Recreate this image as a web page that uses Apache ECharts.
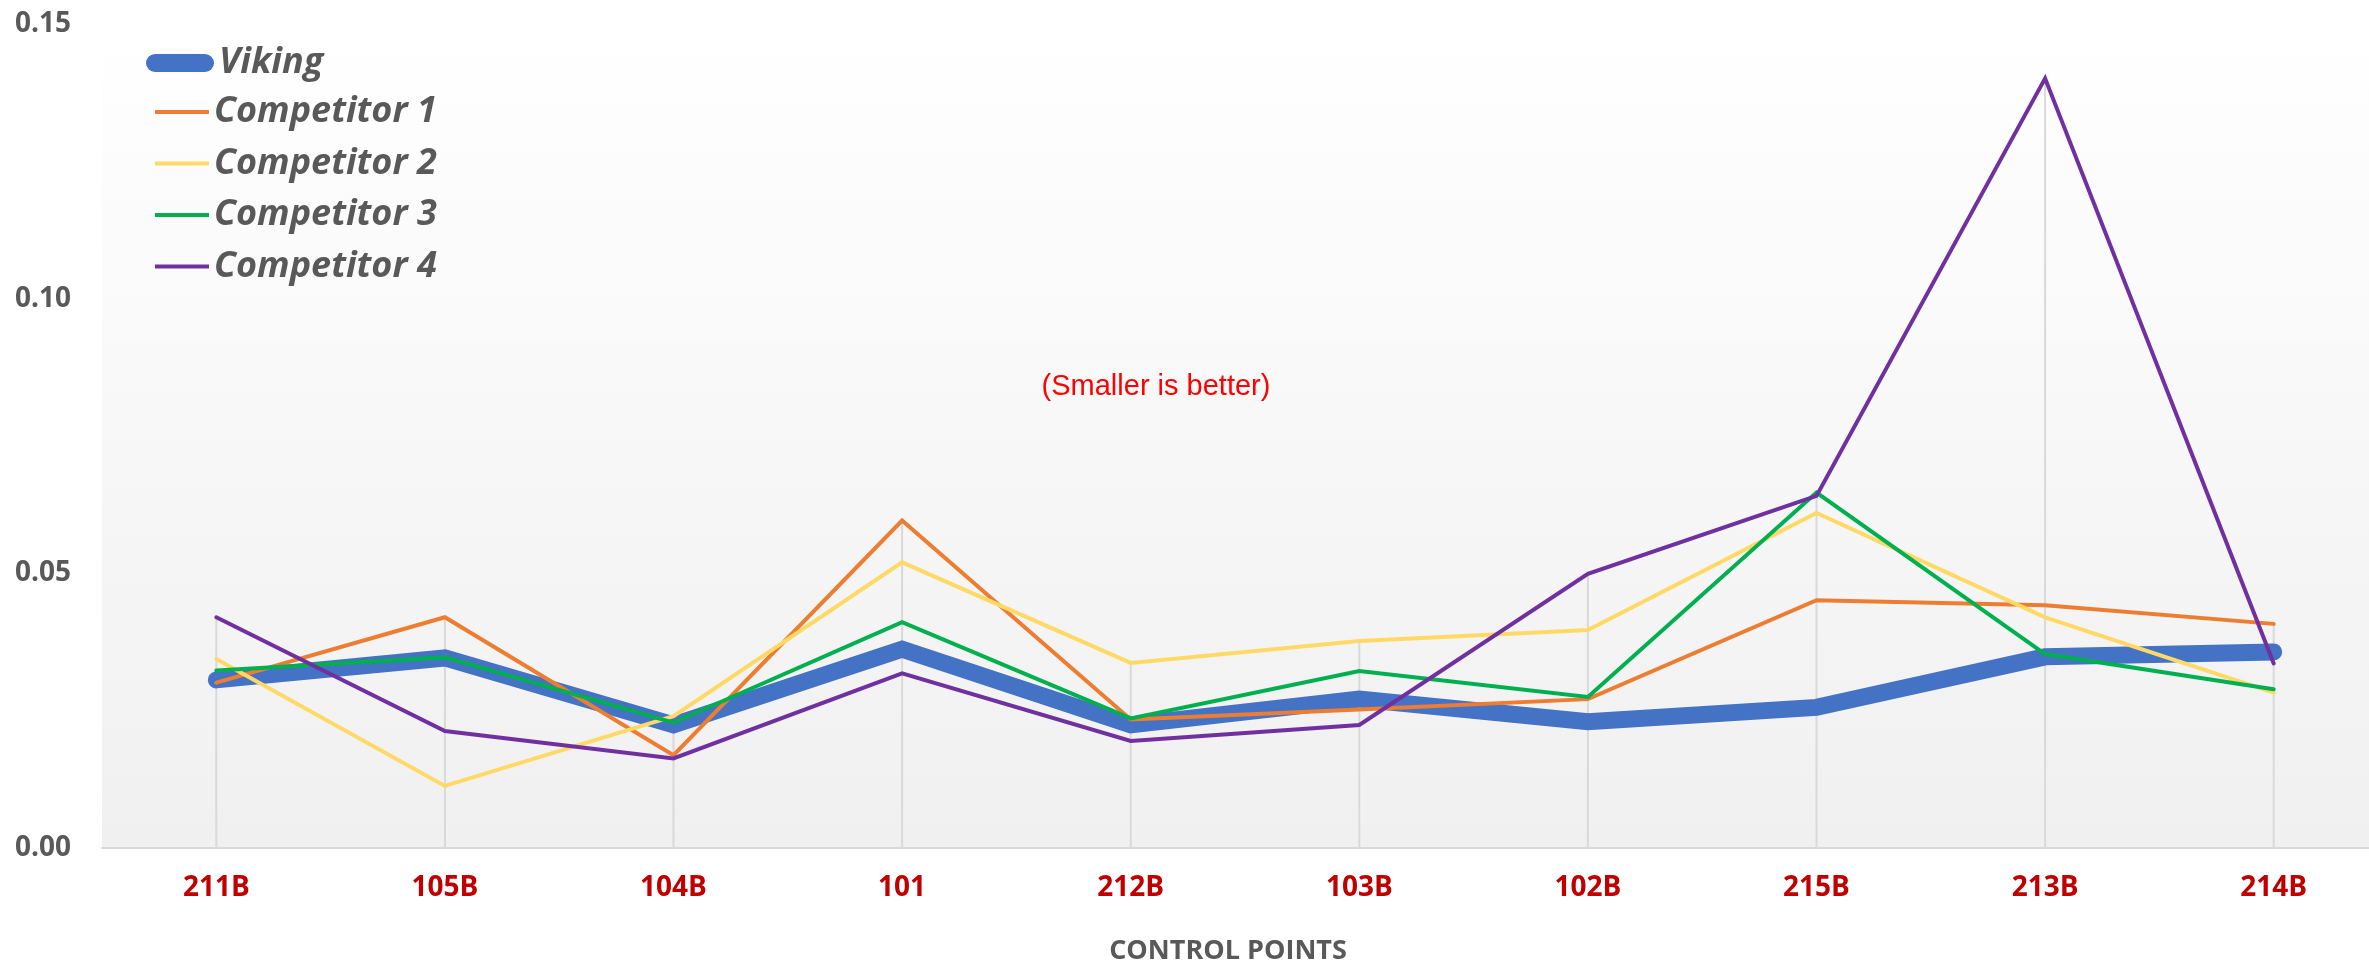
<!DOCTYPE html>
<html>
<head>
<meta charset="utf-8">
<script src="https://cdn.jsdelivr.net/npm/echarts@6/dist/echarts.min.js"></script>
<style>
html,body{margin:0;padding:0;background:#fff;}
#chart{width:2369px;height:963px;}
</style>
</head>
<body>
<div id="chart"></div>
<script>
const categories = ['211B','105B','104B','101','212B','103B','102B','215B','213B','214B'];
const viking      = [0.0306, 0.0346, 0.0224, 0.0362, 0.0224, 0.0271, 0.0230, 0.0256, 0.0348, 0.0357];
const competitor1 = [0.0301, 0.0420, 0.0169, 0.0596, 0.0234, 0.0252, 0.0271, 0.0451, 0.0442, 0.0408];
const competitor2 = [0.0344, 0.0113, 0.0240, 0.0520, 0.0337, 0.0377, 0.0397, 0.0610, 0.0420, 0.0283];
const competitor3 = [0.0323, 0.0347, 0.0228, 0.0411, 0.0236, 0.0322, 0.0275, 0.0647, 0.0353, 0.0289];
const competitor4 = [0.0420, 0.0213, 0.0163, 0.0318, 0.0195, 0.0224, 0.0499, 0.0641, 0.1401, 0.0336];
const yTicks = [0, 0.05, 0.10, 0.15];
const seriesNames = ['Viking','Competitor 1','Competitor 2','Competitor 3','Competitor 4'];
const seriesColors = ['#4472C4','#ED7D31','#FFD966','#00B050','#7030A0'];
const allValues = [viking, competitor1, competitor2, competitor3, competitor4];
const dropLines = categories.map((c, i) => Math.max(...allValues.map(a => a[i])));

const chart = echarts.init(document.getElementById('chart'), null, {renderer: 'canvas'});

const lineSeries = allValues.map((vals, k) => ({
  name: seriesNames[k],
  type: 'line',
  data: vals,
  symbol: 'none',
  z: 3 + k,
  itemStyle: {color: seriesColors[k]},
  lineStyle: {
    color: seriesColors[k],
    width: k === 0 ? 17 : 4,
    cap: 'round',
    join: 'miter'
  },
  emphasis: {disabled: true}
}));

const legendText = {
  fontFamily: 'Open Sans',
  fontWeight: 'bold',
  fontStyle: 'italic',
  fontSize: 36,
  color: '#595959'
};

const option = {
  animation: false,
  backgroundColor: '#ffffff',
  grid: {
    left: 102, top: 24, bottom: 115, width: 2286,
    outerBoundsMode: 'none',
    containLabel: false,
    show: true,
    borderWidth: 0,
    backgroundColor: new echarts.graphic.LinearGradient(0, 0, 0, 1, [
      {offset: 0, color: '#ffffff'},
      {offset: 1, color: '#f0f0f0'}
    ])
  },
  legend: [
    {
      data: [{name: 'Viking', icon: 'path://M9,0 H59 A9,9 0 0 1 59,18 H9 A9,9 0 0 1 9,0 Z', itemStyle: {color: seriesColors[0]}}],
      orient: 'vertical',
      left: 146, top: 45,
      itemWidth: 68, itemHeight: 18,
      padding: 0,
      textStyle: legendText,
      selectedMode: false
    },
    {
      data: seriesNames.slice(1).map((n, i) => ({name: n, icon: 'rect', itemStyle: {color: seriesColors[i + 1]}})),
      orient: 'vertical',
      left: 155, top: 94,
      itemWidth: 54, itemHeight: 4,
      itemGap: 15.5,
      padding: 0,
      textStyle: legendText,
      selectedMode: false
    }
  ],
  xAxis: {
    type: 'category',
    data: categories,
    boundaryGap: true,
    axisLine: {show: true, lineStyle: {color: '#d9d9d9', width: 2}},
    axisTick: {show: false},
    splitLine: {show: false},
    axisLabel: {
      color: '#C00000',
      fontFamily: 'Open Sans',
      fontWeight: 'bold',
      fontSize: 28,
      margin: 26
    }
  },
  yAxis: {
    type: 'value',
    min: yTicks[0],
    max: yTicks[yTicks.length - 1],
    interval: 0.05,
    axisLine: {show: false},
    axisTick: {show: false},
    splitLine: {show: false},
    axisLabel: {
      color: '#595959',
      fontFamily: 'Open Sans',
      fontWeight: 'bold',
      fontSize: 28,
      margin: 31,
      formatter: v => v.toFixed(2)
    }
  },
  graphic: [{
    type: 'text',
    x: 1156,
    y: 387,
    style: {
      text: '(Smaller is better)',
      fill: '#FF0000',
      font: '29px "Liberation Sans", Arial, sans-serif',
      align: 'center',
      verticalAlign: 'middle'
    },
    z: 100
  }, {
    type: 'text',
    x: 1228,
    y: 951,
    style: {
      text: 'CONTROL POINTS',
      fill: '#595959',
      font: 'bold 27px "Open Sans", sans-serif',
      align: 'center',
      verticalAlign: 'middle'
    },
    z: 100
  }],
  series: [
    {
      name: 'drop',
      type: 'bar',
      data: dropLines,
      barWidth: 2,
      z: 1,
      itemStyle: {color: '#d9d9d9'},
      emphasis: {disabled: true},
      silent: true
    },
    ...lineSeries
  ]
};
chart.setOption(option);
</script>
</body>
</html>
